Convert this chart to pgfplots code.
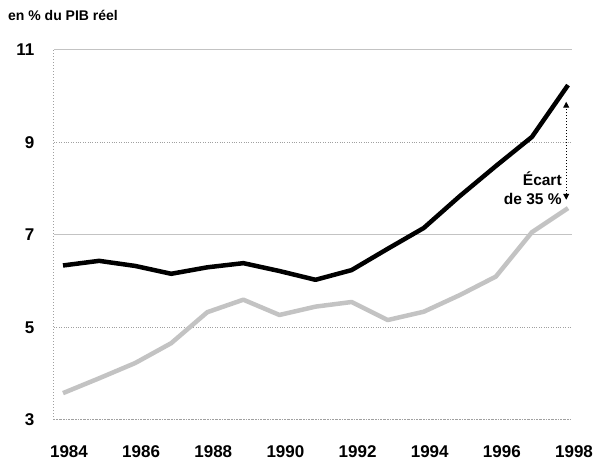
\documentclass[border=0pt]{standalone}
\usepackage{pgfplots}
\pgfplotsset{compat=1.18}
\usepackage{fontspec}
\setmainfont{Liberation Sans}
\usetikzlibrary{arrows.meta}
\definecolor{lgray}{RGB}{195,195,195}
\definecolor{ggray}{RGB}{160,160,160}
\begin{document}
\begin{tikzpicture}[x=1pt,y=1pt]
\begin{axis}[
  scale only axis, width=518pt, height=370pt,
  xmin=1983.75, xmax=1998.11, ymin=3, ymax=11,
  axis x line*=bottom, axis y line*=left,
  axis line style={ggray, dotted, line width=1pt, -},
  xtick={1984,1986,...,1998},
  ytick={3,5,9}, extra y ticks={7,11},
  extra y tick style={grid=major, major grid style={solid, lgray, line width=1pt}},
  ymajorgrids, major grid style={dotted, ggray, line width=1pt},
  major tick length=0pt,
  /pgf/number format/assume math mode=true,
  /pgf/number format/1000 sep={},
  ticklabel style={font=\fontsize{17}{17}\selectfont\bfseries},
  xticklabel style={yshift=-22pt, xshift=6pt},
  yticklabel style={xshift=-16pt},
  clip=false,
]
\coordinate (bl) at (axis description cs:-0.1042,-0.135);
\coordinate (tr) at (axis description cs:1.056,1.135);
\addplot[black, line width=4.5pt, line join=round] coordinates {
(1984,6.34) (1985,6.44) (1986,6.33) (1987,6.16) (1988,6.3) (1989,6.39)
(1990,6.22) (1991,6.03) (1992,6.24) (1993,6.7) (1994,7.15) (1995,7.84)
(1996,8.49) (1997,9.12) (1998,10.24)};
\addplot[lgray, line width=4.5pt, line join=round] coordinates {
(1984,3.58) (1985,3.9) (1986,4.23) (1987,4.66) (1988,5.33) (1989,5.6)
(1990,5.27) (1991,5.45) (1992,5.55) (1993,5.16) (1994,5.34) (1995,5.7)
(1996,6.1) (1997,7.06) (1998,7.58)};
\draw[black, dotted, line width=1pt, {Triangle[width=6pt,length=6pt]}-{Triangle[width=6pt,length=6pt]}]
  (axis cs:1997.95,7.76) -- (axis cs:1997.95,9.88);
\node[anchor=east, align=right, font=\fontsize{15.5}{19}\selectfont\bfseries, inner sep=0pt]
  at (axis cs:1997.83,8.0) {Écart\\de 35 \%};
\node[anchor=west, font=\fontsize{14}{14}\selectfont\bfseries, inner sep=0pt]
  at (axis description cs:-0.0888,1.0946) {en \% du PIB réel};
\end{axis}
\pgfresetboundingbox
\path[use as bounding box] (bl) rectangle (tr);
\end{tikzpicture}
\end{document}
